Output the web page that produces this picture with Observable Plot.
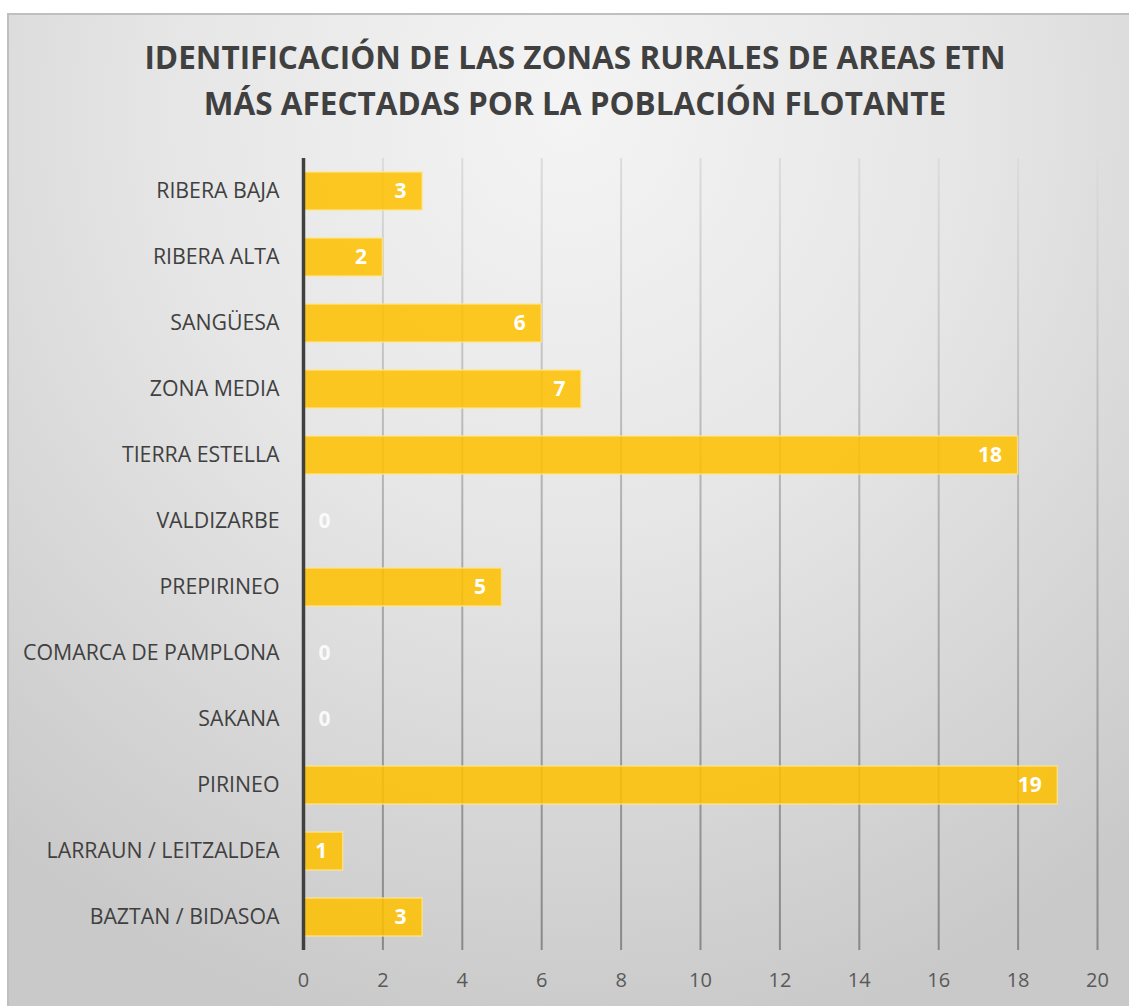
<!DOCTYPE html>
<html>
<head>
<meta charset="utf-8">
<script src="https://cdn.jsdelivr.net/npm/d3@7"></script>
<script src="https://cdn.jsdelivr.net/npm/@observablehq/plot@0.6"></script>
<style>
  html, body { margin: 0; padding: 0; background: #fff; }
  #wrap { position: relative; width: 1129px; height: 1006px; overflow: hidden; background: #fff; font-family: "Open Sans", sans-serif; }
  #frame { position: absolute; left: 7px; top: 13px; width: 1122px; height: 993px;
    border-top: 2px solid #bfbfbf; border-left: 2px solid #bfbfbf; box-sizing: border-box;
    background: radial-gradient(ellipse 80% 95% at 50% 10%, #f4f4f4 0%, #e6e6e6 45%, #c9c9c9 100%); }
  #title { position: absolute; left: 14px; width: 1122px; top: 34px; text-align: center;
    font-weight: 700; font-size: 31.5px; line-height: 46px; color: #404040; letter-spacing: 0px; }
  #chart { position: absolute; left: 0; top: 140px; }
</style>
</head>
<body>
<div id="wrap">
  <div id="frame"></div>
  <div id="title">IDENTIFICACIÓN DE LAS ZONAS RURALES DE AREAS ETN<br>MÁS AFECTADAS POR LA POBLACIÓN FLOTANTE</div>
  <div id="chart"></div>
</div>
<script>
const zonas = ["RIBERA BAJA","RIBERA ALTA","SANGÜESA","ZONA MEDIA","TIERRA ESTELLA","VALDIZARBE","PREPIRINEO","COMARCA DE PAMPLONA","SAKANA","PIRINEO","LARRAUN / LEITZALDEA","BAZTAN / BIDASOA"];
const valores = [3,2,6,7,18,0,5,0,0,19,1,3];
const ticks = [0,2,4,6,8,10,12,14,16,18,20];

const data = zonas.map((z,i) => ({zona: z, valor: valores[i]}));

const W = 1129, H = 866;
const plot = Plot.plot({
  width: W, height: H,
  marginLeft: 303, marginRight: 32, marginTop: 18, marginBottom: 56,
  style: {background: "transparent", fontFamily: "Open Sans, sans-serif"},
  x: {domain: [0, 20], ticks: ticks, label: null, tickSize: 0, tickPadding: 22},
  y: {domain: zonas, label: null, paddingInner: 0.42, paddingOuter: 0.21, tickSize: 0, tickPadding: 24},
  marks: [
    Plot.ruleX(ticks.filter(t => t > 0), {stroke: "url(#gridgrad)", strokeWidth: 2}),
    Plot.barX(data, {y: "zona", x: "valor", fill: "#FFC000", fillOpacity: 0.86, stroke: "#FFE38A", strokeWidth: 1.5, strokeOpacity: 0.8}),
    Plot.ruleX([0], {stroke: "#404040", strokeWidth: 3.5}),
    Plot.text(data.filter(d => d.valor > 0), {y: "zona", x: "valor", text: d => String(d.valor), textAnchor: "end", dx: -16, fill: "white", fontWeight: 700, fontSize: 21}),
    Plot.text(data.filter(d => d.valor === 0), {y: "zona", x: "valor", text: d => String(d.valor), textAnchor: "start", dx: 15, fill: "white", fillOpacity: 0.85, fontWeight: 700, fontSize: 21}),
    Plot.axisX({ticks: ticks, tickSize: 0, tickPadding: 22, fontSize: 20, fill: "#595959", label: null}),
    Plot.axisY({tickSize: 0, tickPadding: 24, fontSize: 21.3, fill: "#404040", label: null})
  ]
});
// gradient for gridlines (lighter at top, darker at bottom)
const ns = "http://www.w3.org/2000/svg";
const defs = document.createElementNS(ns, "defs");
const lg = document.createElementNS(ns, "linearGradient");
lg.setAttribute("id", "gridgrad");
lg.setAttribute("gradientUnits", "userSpaceOnUse");
lg.setAttribute("x1", "0"); lg.setAttribute("x2", "0");
lg.setAttribute("y1", "18"); lg.setAttribute("y2", String(H - 56));
[["0%", "#dcdcdc"], ["45%", "#b0b0b0"], ["100%", "#888888"]].forEach(([o, c]) => {
  const s = document.createElementNS(ns, "stop");
  s.setAttribute("offset", o); s.setAttribute("stop-color", c);
  lg.appendChild(s);
});
defs.appendChild(lg);
plot.insertBefore(defs, plot.firstChild);
document.getElementById("chart").appendChild(plot);
</script>
</body>
</html>
